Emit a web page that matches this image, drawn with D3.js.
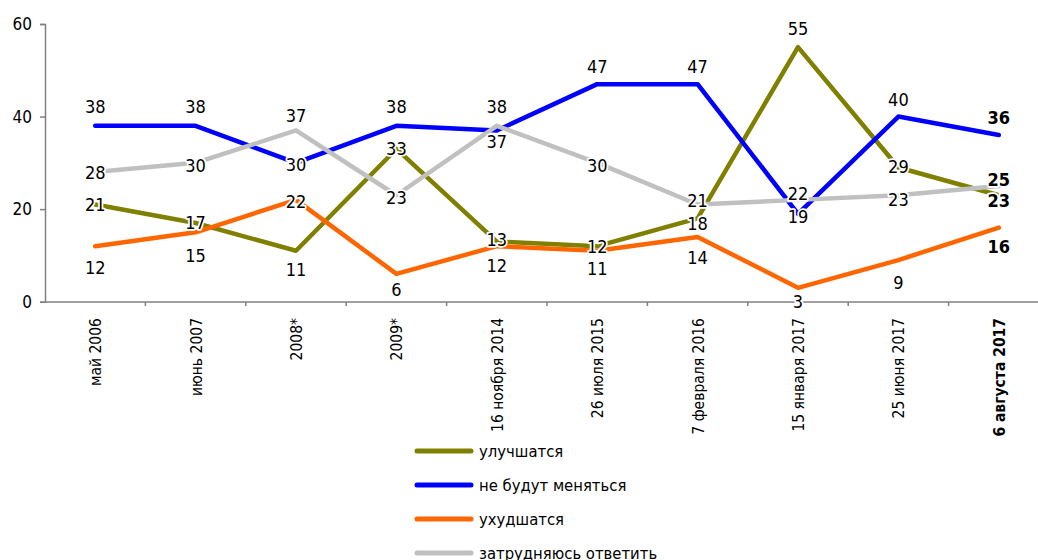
<!DOCTYPE html>
<html><head><meta charset="utf-8">
<script src="https://cdn.jsdelivr.net/npm/d3@7"></script>
<style>
html,body{margin:0;padding:0;background:#fff;}
svg{display:block;font-family:"DejaVu Sans Condensed","DejaVu Sans",sans-serif;}
</style></head>
<body><svg id="chart" width="1038" height="560"></svg>
<script>
const categories = ["май 2006","июнь 2007","2008*","2009*","16 ноября 2014","26 июля 2015","7 февраля 2016","15 января 2017","25 июня 2017","6 августа 2017"];
const seriesNames = ["улучшатся","не будут меняться","ухудшатся","затрудняюсь ответить"];
const improve   = [21,17,11,33,13,12,18,55,29,23];
const unchanged = [38,38,30,38,37,47,47,19,40,36];
const worsen    = [12,15,22,6,12,11,14,3,9,16];
const unsure    = [28,30,37,23,38,30,21,22,23,25];
const yTicks = [0,20,40,60];

// label vertical offsets from the point (px), placement only
const labelOffset = [
  [0,0,19,0,-2,0,5,-19,-1,5],
  [-19,-19,2,-19,11,-18,-18,3,-17,-18],
  [21,23,2,16,19,18,21,14,22,19],
  [0,3,-15,2,-19,3,-4,-6,4,-6]
];
const colors = ["#808000","#0000FF","#FF6600","#C0C0C0"];
const series = [improve, unchanged, worsen, unsure];

const svg = d3.select("#chart");
const x = d3.scaleBand().domain(categories).range([45,1049]);
const y = d3.scaleLinear().domain([0,60]).range([301.7,24]);
const cx = c => x(c) + x.bandwidth()/2;

// axes
const yAxis = svg.append("g").attr("transform","translate(45,0)")
  .call(d3.axisLeft(y).tickValues(yTicks).tickSize(5).tickPadding(8));
yAxis.select(".domain").attr("stroke","#808080").attr("stroke-width",1.5);
yAxis.selectAll(".tick line").attr("stroke","#808080").attr("stroke-width",1.5);
yAxis.selectAll(".tick text").attr("font-size",17).attr("fill","#000")
  .attr("font-family","DejaVu Sans Condensed");

const xg = svg.append("g").attr("transform","translate(0,302)");
xg.append("line").attr("x1",45).attr("x2",1049).attr("stroke","#808080").attr("stroke-width",1.5);
xg.selectAll("line.tk").data(categories).enter().append("line")
  .attr("class","tk")
  .attr("x1",d=>x(d)+x.bandwidth())
  .attr("x2",d=>x(d)+x.bandwidth())
  .attr("y1",0).attr("y2",4).attr("stroke","#808080").attr("stroke-width",1.5);
xg.selectAll("text").data(categories).enter().append("text")
  .attr("transform",d=>`translate(${cx(d)+6},16) rotate(-90)`)
  .attr("text-anchor","end")
  .attr("font-size",15.5)
  .attr("font-weight",(d,i)=>i===categories.length-1?"bold":"normal")
  .text(d=>d);

// lines
const line = d3.line().x((d,i)=>cx(categories[i])).y(d=>y(d));
series.forEach((s,k)=>{
  svg.append("path").datum(s).attr("d",line)
    .attr("fill","none").attr("stroke",colors[k]).attr("stroke-width",4.5)
    .attr("stroke-linejoin","round").attr("stroke-linecap","round");
});

// labels
series.forEach((s,k)=>{
  svg.append("g").selectAll("text").data(s).enter().append("text")
    .attr("x",(d,i)=>cx(categories[i]))
    .attr("y",(d,i)=>y(d)+labelOffset[k][i])
    .attr("dy","0.36em")
    .attr("text-anchor","middle")
    .attr("font-size",18)
    .attr("font-weight",(d,i)=>i===s.length-1?"bold":"normal")
    .attr("stroke","#fff").attr("stroke-width",3.5).attr("paint-order","stroke")
    .attr("stroke-linejoin","round")
    .attr("fill","#000")
    .text(d=>d);
});

// legend
const lg = svg.append("g");
seriesNames.forEach((n,k)=>{
  const yy = 451 + k*34;
  lg.append("line").attr("x1",417).attr("x2",471).attr("y1",yy).attr("y2",yy)
    .attr("stroke",colors[k]).attr("stroke-width",5).attr("stroke-linecap","round");
  lg.append("text").attr("x",479).attr("y",yy).attr("dy","0.35em")
    .attr("font-size",16.5).text(n);
});
</script></body></html>
